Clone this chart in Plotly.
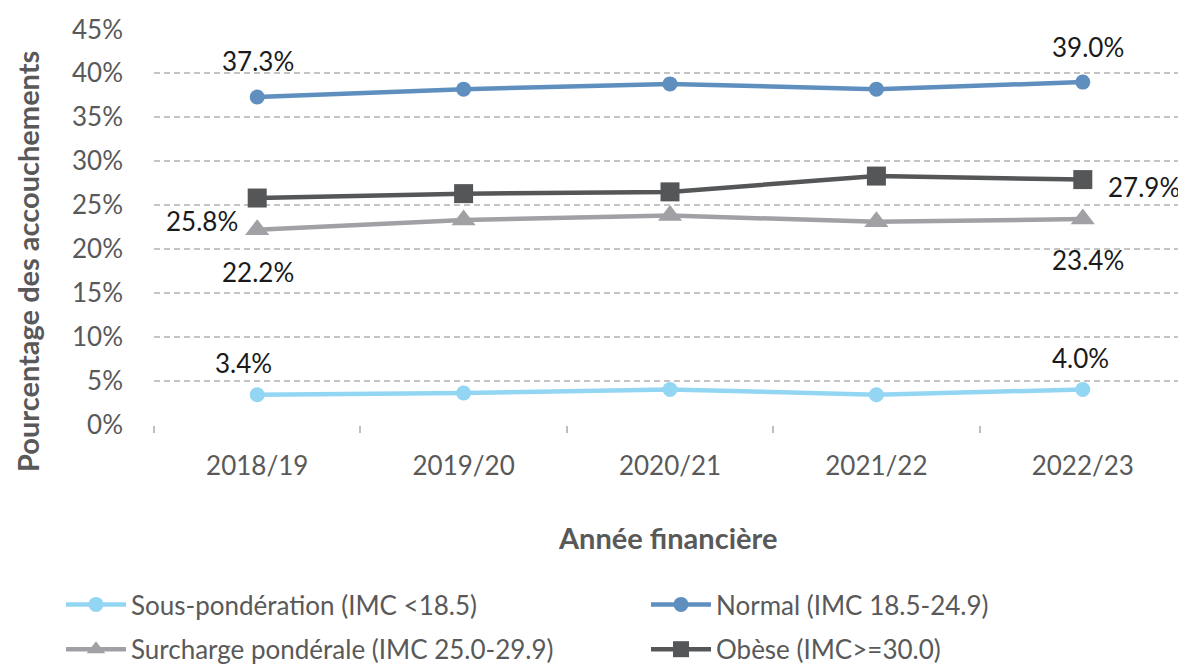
import plotly.graph_objects as go

annees = ["2018/19", "2019/20", "2020/21", "2021/22", "2022/23"]

sous_ponderation = [3.4, 3.6, 4.0, 3.4, 4.0]
normal = [37.3, 38.2, 38.8, 38.2, 39.0]
surcharge = [22.2, 23.3, 23.8, 23.1, 23.4]
obese = [25.8, 26.3, 26.5, 28.3, 27.9]

y_ticks = [0, 5, 10, 15, 20, 25, 30, 35, 40, 45]
y_tick_labels = ["0%", "5%", "10%", "15%", "20%", "25%", "30%", "35%", "40%", "45%"]

noms = [
    "Sous-pondération (IMC <18.5)",
    "Normal (IMC 18.5-24.9)",
    "Surcharge pondérale (IMC 25.0-29.9)",
    "Obèse (IMC>=30.0)",
]

FONT = "Lato, Open Sans, sans-serif"
GRIS_TEXTE = "#595959"

# page body keeps its default 8px margin, so the figure is 8px smaller
W, H = 1178, 656
ML, MT, MB = 146, 21, 239
PW, PH = W - ML, H - MT - MB

series = [
    # values, colour, symbol, marker size, legend
    (sous_ponderation, "#92d6f4", "circle", 15, "legend"),
    (normal, "#5f8fbf", "circle", 15, "legend2"),
    (surcharge, "#a1a1a5", "triangle-up", 21, "legend"),
    (obese, "#545658", "square", 19, "legend2"),
]

fig = go.Figure()
for i, (vals, col, sym, msize, leg) in enumerate(series):
    fig.add_trace(go.Scatter(
        x=annees, y=vals, name=noms[i], mode="lines+markers",
        line=dict(color=col, width=4.5),
        marker=dict(color=col, symbol=sym, size=msize),
        legend=leg, legendgroup=noms[i],
        hoverinfo="skip",
    ))

# data labels on first and last points only (xshift, yshift per label)
etiquettes = [
    (sous_ponderation, [(-14, 32), (-2, 31)]),
    (normal, [(1, 36), (5, 35)]),
    (surcharge, [(1, -42), (5, -41)]),
    (obese, [(-55, -23), (61, -7)]),
]
for vals, decal in etiquettes:
    for idx, (dx, dy) in zip([0, len(annees) - 1], decal):
        fig.add_annotation(
            x=annees[idx], y=vals[idx], text=f"{vals[idx]:.1f}%",
            showarrow=False, xshift=dx, yshift=dy,
            font=dict(family=FONT, size=26, color="#1a1a1a"),
        )

# axis titles placed in pixels (figure coords)
fig.add_annotation(
    text="<b>Année financière</b>", xref="paper", yref="paper",
    x=(659 - ML) / PW, y=(MT + PH - 529) / PH, showarrow=False,
    xanchor="center", yanchor="middle",
    font=dict(family=FONT, size=29, color=GRIS_TEXTE),
)
fig.add_annotation(
    text="<b>Pourcentage des accouchements</b>", xref="paper", yref="paper",
    x=(19 - ML) / PW, y=(MT + PH - 254) / PH, showarrow=False, textangle=-90,
    xanchor="center", yanchor="middle",
    font=dict(family=FONT, size=29, color=GRIS_TEXTE),
)

fig.update_xaxes(
    type="category", range=[-0.5, 4.5], tickson="boundaries",
    ticks="outside", ticklen=7, tickcolor="#bfbfbf", tickwidth=1.5,
    showgrid=False, showline=False, zeroline=False, automargin=False,
    tickangle=0,
    tickfont=dict(family=FONT, size=26, color=GRIS_TEXTE),
    ticklabelstandoff=23,
)
fig.update_yaxes(
    range=[-0.05, 45.05], tickvals=y_ticks, ticktext=y_tick_labels,
    showgrid=True, gridcolor="#c4c4c4", gridwidth=1.5, griddash="6px,4px",
    zeroline=False, showline=False, ticks="", automargin=False,
    tickfont=dict(family=FONT, size=26, color=GRIS_TEXTE),
    ticklabelstandoff=30,
)

leg_style = dict(
    xref="container", yref="container", yanchor="top", xanchor="left",
    orientation="v", tracegroupgap=8, itemwidth=60,
    font=dict(family=FONT, size=26, color=GRIS_TEXTE),
    bgcolor="rgba(0,0,0,0)",
)
fig.update_layout(
    width=W, height=H,
    margin=dict(l=ML, r=0, t=MT, b=MB, autoexpand=False),
    plot_bgcolor="white", paper_bgcolor="white",
    showlegend=True,
    legend=dict(x=53 / W, y=1 - 573 / H, **leg_style),
    legend2=dict(x=638 / W, y=1 - 573 / H, **leg_style),
)

fig.write_html("out.html")
